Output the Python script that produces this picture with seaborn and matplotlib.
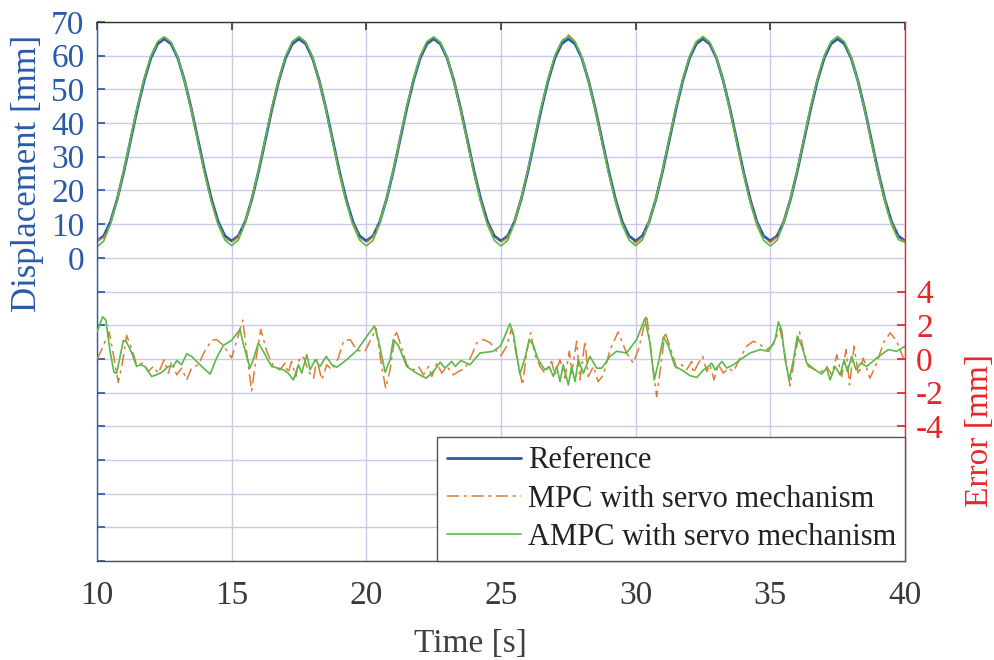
import pandas as pd
import seaborn as sns
import matplotlib.pyplot as plt

# displacement curves, sampled every 0.25 s from 10 s to 40 s
t_disp = [10 + 0.25 * i for i in range(121)]

ref_disp = [
    5.0, 6.5, 10.7, 17.4, 25.7, 35.0, 44.3, 52.6, 59.3, 63.5, 65.0, 63.5, 59.3, 52.6, 44.3, 35.0, 25.7, 17.4, 10.7, 6.5,
    5.0, 6.5, 10.7, 17.4, 25.7, 35.0, 44.3, 52.6, 59.3, 63.5, 65.0, 63.5, 59.3, 52.6, 44.3, 35.0, 25.7, 17.4, 10.7, 6.5,
    5.0, 6.5, 10.7, 17.4, 25.7, 35.0, 44.3, 52.6, 59.3, 63.5, 65.0, 63.5, 59.3, 52.6, 44.3, 35.0, 25.7, 17.4, 10.7, 6.5,
    5.0, 6.5, 10.7, 17.4, 25.7, 35.0, 44.3, 52.6, 59.3, 63.5, 65.0, 63.5, 59.3, 52.6, 44.3, 35.0, 25.7, 17.4, 10.7, 6.5,
    5.0, 6.5, 10.7, 17.4, 25.7, 35.0, 44.3, 52.6, 59.3, 63.5, 65.0, 63.5, 59.3, 52.6, 44.3, 35.0, 25.7, 17.4, 10.7, 6.5,
    5.0, 6.5, 10.7, 17.4, 25.7, 35.0, 44.3, 52.6, 59.3, 63.5, 65.0, 63.5, 59.3, 52.6, 44.3, 35.0, 25.7, 17.4, 10.7, 6.5,
    5.0,
]

mpc_disp = [
    5.0, 6.0, 10.2, 17.6, 26.1, 35.3, 44.6, 53.0, 59.8, 64.0, 65.5, 64.0, 59.6, 52.8, 44.2, 34.6, 25.2, 16.8, 10.1, 5.9,
    4.6, 6.1, 10.9, 17.9, 26.2, 35.4, 44.7, 53.0, 59.8, 64.1, 65.6, 64.0, 59.7, 52.6, 44.1, 34.7, 25.4, 17.0, 10.3, 6.0,
    4.5, 6.2, 10.8, 17.8, 26.1, 35.5, 44.8, 53.1, 59.9, 64.1, 65.5, 63.9, 59.5, 52.7, 44.3, 34.8, 25.3, 16.9, 10.2, 6.1,
    4.6, 6.0, 11.0, 17.9, 26.3, 35.6, 44.9, 53.2, 60.0, 64.3, 66.2, 64.2, 59.6, 52.5, 44.0, 34.6, 25.2, 16.9, 10.1, 5.9,
    4.4, 6.1, 10.9, 17.8, 26.2, 35.4, 44.7, 53.0, 59.8, 64.0, 65.6, 64.0, 59.7, 52.8, 44.2, 34.7, 25.3, 17.0, 10.3, 6.0,
    4.5, 6.2, 10.8, 17.8, 26.1, 35.5, 44.8, 53.1, 59.9, 64.1, 65.7, 64.1, 59.6, 52.6, 44.1, 34.7, 25.4, 17.1, 10.4, 6.1,
    4.8,
]

ampc_disp = [
    3.2, 5.0, 10.0, 17.3, 26.0, 35.6, 45.0, 53.2, 59.9, 64.2, 65.6, 64.0, 59.5, 52.4, 43.8, 34.3, 24.9, 16.5, 9.7, 5.3,
    3.6, 5.3, 10.3, 17.6, 26.1, 35.5, 44.9, 53.1, 59.8, 64.2, 65.7, 64.1, 59.6, 52.4, 43.9, 34.4, 25.0, 16.6, 9.8, 5.3,
    3.5, 5.2, 10.2, 17.5, 26.0, 35.5, 44.9, 53.2, 59.9, 64.2, 65.6, 64.0, 59.5, 52.3, 43.8, 34.4, 24.9, 16.5, 9.7, 5.2,
    3.5, 5.2, 10.3, 17.6, 26.2, 35.6, 45.0, 53.2, 59.9, 64.3, 65.8, 64.1, 59.6, 52.4, 43.9, 34.4, 25.0, 16.6, 9.8, 5.3,
    3.6, 5.3, 10.2, 17.5, 26.0, 35.5, 44.9, 53.1, 59.8, 64.2, 65.7, 64.0, 59.5, 52.4, 43.8, 34.3, 24.9, 16.5, 9.7, 5.2,
    3.5, 5.2, 10.2, 17.5, 26.1, 35.5, 44.9, 53.2, 59.9, 64.2, 65.7, 64.1, 59.6, 52.4, 43.9, 34.4, 25.0, 16.6, 9.8, 5.4,
    4.6,
]

# tracking error of the MPC controller [mm]
t_mpc = [
    10.0, 10.16, 10.45, 10.58, 10.79, 10.92, 11.1, 11.29, 11.47, 11.72, 11.9, 12.09, 12.28, 12.49, 12.65, 12.77,
    12.96, 13.14, 13.33, 13.51, 13.76, 14.01, 14.26, 14.44, 14.69, 15.0, 15.19, 15.41, 15.56, 15.74, 15.9, 16.08,
    16.3, 16.55, 16.79, 16.98, 17.1, 17.22, 17.38, 17.54, 17.69, 17.85, 18.04, 18.16, 18.35, 18.53, 18.72, 18.96,
    19.15, 19.4, 19.65, 19.95, 20.14, 20.36, 20.57, 20.72, 20.88, 21.1, 21.25, 21.5, 21.75, 21.94, 22.12, 22.31,
    22.43, 22.62, 22.8, 22.99, 23.23, 23.42, 23.67, 23.92, 24.1, 24.35, 24.6, 24.84, 25.0, 25.21, 25.39, 25.58,
    25.8, 25.95, 26.1, 26.26, 26.45, 26.63, 26.88, 27.0, 27.19, 27.37, 27.54, 27.62, 27.81, 27.93, 28.12, 28.24,
    28.43, 28.61, 28.8, 29.05, 29.35, 29.66, 29.91, 30.1, 30.41, 30.59, 30.78, 30.93, 31.09, 31.27, 31.52, 31.71,
    31.89, 32.08, 32.14, 32.33, 32.49, 32.64, 32.76, 32.91, 33.07, 33.26, 33.44, 33.63, 33.88, 34.12, 34.37, 34.62,
    34.87, 35.11, 35.36, 35.55, 35.73, 35.89, 36.08, 36.23, 36.41, 36.66, 36.91, 37.09, 37.28, 37.47, 37.65, 37.81,
    37.94, 38.11, 38.27, 38.45, 38.7, 38.95, 39.2, 39.45, 39.69, 39.94,
]
err_mpc = [
    0.0, 0.5, 1.6, 0.5, -1.4, -0.45, 1.4, 0.6, -0.35, -0.25, -0.75, -0.45, -0.85, -0.05, -0.85, -0.15,
    -0.95, -0.55, -1.25, -0.55, -0.35, 0.5, 1.1, 1.15, 0.8, 0.05, 1.1, 2.3, 0.35, -1.9, -0.05, 1.75,
    0.45, -0.45, -0.65, -0.25, -0.85, -0.15, -1.05, 0.15, 0.05, -0.75, -1.15, -0.05, -1.25, -0.35, -0.65, 0.05,
    1.05, 1.15, 0.5, 0.45, 1.05, 1.8, -0.45, -1.75, -0.65, 1.7, 0.95, -0.35, -0.65, -0.45, -0.95, -0.45,
    -1.05, -0.25, -0.85, -0.45, -0.95, -0.75, -0.55, 0.25, 0.95, 1.15, 0.95, 0.45, 0.2, 0.75, 1.8, 0.15,
    -1.55, 0.35, 1.55, 0.25, -0.45, -0.85, -0.15, -0.95, -0.05, -1.15, 0.45, -0.85, 1.05, -1.25, 1.05, -1.05,
    -0.45, -1.35, -0.95, 0.55, 1.6, 0.35, -0.25, 0.55, 2.6, 0.15, -2.25, -0.45, 1.6, 0.75, -0.55, -0.35,
    -0.65, -0.15, -0.85, -0.25, 0.15, -0.75, -0.35, -1.25, -0.35, -0.85, -0.55, -0.75, 0.05, 0.75, 1.05, 0.85,
    0.55, 0.85, 1.8, 0.15, -1.6, -0.05, 1.6, 0.55, -0.45, -0.65, -0.75, -0.45, -0.95, 0.25, -1.05, 0.55,
    -1.55, 0.75, -0.95, 0.05, -1.15, -0.25, 0.95, 1.55, 1.05, 0.05,
]

# tracking error of the AMPC controller [mm]
t_ampc = [
    10.0, 10.21, 10.33, 10.48, 10.63, 10.73, 10.98, 11.1, 11.29, 11.47, 11.6, 11.78, 12.03, 12.2, 12.4, 12.65,
    12.83, 12.96, 13.14, 13.33, 13.51, 13.7, 13.95, 14.2, 14.44, 14.69, 15.0, 15.31, 15.43, 15.68, 15.8, 15.99,
    16.17, 16.48, 16.73, 16.92, 17.1, 17.29, 17.48, 17.6, 17.79, 17.91, 18.1, 18.28, 18.51, 18.72, 18.9, 19.27,
    19.65, 20.02, 20.3, 20.45, 20.7, 20.88, 21.0, 21.19, 21.5, 21.87, 22.22, 22.49, 22.74, 22.92, 23.17, 23.3,
    23.51, 23.85, 24.22, 24.72, 24.97, 25.09, 25.33, 25.46, 25.7, 25.89, 26.05, 26.2, 26.38, 26.63, 26.79, 26.94,
    27.07, 27.19, 27.31, 27.5, 27.62, 27.75, 27.87, 28.06, 28.3, 28.55, 28.74, 29.05, 29.29, 29.66, 30.04, 30.34,
    30.53, 30.69, 30.84, 31.03, 31.21, 31.46, 31.71, 32.02, 32.27, 32.52, 32.7, 32.82, 32.95, 33.2, 33.38, 33.63,
    33.88, 34.25, 34.62, 34.93, 35.18, 35.3, 35.42, 35.55, 35.7, 35.86, 36.0, 36.17, 36.35, 36.66, 36.91, 37.09,
    37.22, 37.4, 37.59, 37.74, 37.86, 38.02, 38.18, 38.36, 38.58, 38.95, 39.38, 39.69, 40.0,
]
err_ampc = [
    1.6, 2.5, 2.3, 0.5, -0.8, -0.85, 1.1, 1.0, 0.35, -0.45, -0.35, -0.45, -1.05, -0.95, -0.8, -0.45,
    -0.45, -0.1, -0.35, 0.3, 0.15, -0.15, -0.55, -0.9, 0.05, 0.8, 1.1, 1.75, 0.9, -0.55, -0.05, 0.95,
    0.45, -0.45, -0.55, -0.65, -0.85, -1.25, -0.35, -0.85, 0.25, -0.65, -0.05, -0.45, 0.15, -0.35, -0.5, -0.05,
    0.5, 1.35, 1.95, 1.1, -0.8, -0.05, 1.15, 0.8, -0.45, -0.85, -1.15, -0.75, -0.2, -0.55, -0.15, -0.45,
    -0.1, -0.35, 0.35, 0.45, 0.75, 1.15, 2.1, 1.5, -0.9, 0.05, 1.15, 0.8, -0.05, -0.65, -0.45, -1.05,
    -0.45, -1.35, -0.35, -1.55, -0.45, -1.35, -0.05, -0.85, 0.15, -0.55, -0.55, 0.15, 0.45, 0.35, 1.15, 2.4,
    0.95, -1.25, -0.25, 1.3, 0.8, -0.45, -0.65, -1.0, -1.1, -0.65, -0.45, -0.25, -0.65, -0.15, -0.55, -0.35,
    -0.05, 0.35, 0.55, 0.45, 1.15, 2.2, 1.7, -0.05, -1.25, -0.05, 1.35, 0.75, -0.25, -0.65, -0.9, -0.55,
    -1.25, -0.45, -0.95, -0.05, -0.75, 0.15, -0.65, -0.25, -0.45, 0.05, 0.55, 0.45, 0.75,
]

labels = ["Reference", "MPC with servo mechanism", "AMPC with servo mechanism"]

blue = "#2a5aa8"
orange = "#e07b35"
green = "#5cb848"
red = "#e8262a"

sns.set_theme(style="white")
plt.rcParams['font.family'] = ['Liberation Serif', 'DejaVu Serif']

disp = pd.DataFrame({"t": t_disp, "ref": ref_disp, "mpc": mpc_disp, "ampc": ampc_disp})
emp = pd.DataFrame({"t": t_mpc, "e": err_mpc})
eam = pd.DataFrame({"t": t_ampc, "e": err_ampc})

fig = plt.figure(figsize=(9.95, 6.6), dpi=100)
ax = fig.add_axes([97 / 995, 1 - 561 / 660, 808 / 995, 539 / 660])
ax2 = ax.twinx()

# displacement on the left axis
sns.lineplot(data=disp, x="t", y="ref", ax=ax, color=blue, lw=2.0, label=labels[0], estimator=None, sort=False)
sns.lineplot(data=disp, x="t", y="mpc", ax=ax, color=orange, lw=1.1, label=labels[1], estimator=None, sort=False)
ax.lines[-1].set_dashes([8, 3, 2, 3])
sns.lineplot(data=disp, x="t", y="ampc", ax=ax, color=green, lw=1.2, label=labels[2], estimator=None, sort=False)

# errors on the right axis
sns.lineplot(data=emp, x="t", y="e", ax=ax2, color=orange, lw=1.1, estimator=None, sort=False)
ax2.lines[-1].set_dashes([8, 3, 2, 3])
sns.lineplot(data=eam, x="t", y="e", ax=ax2, color=green, lw=1.2, estimator=None, sort=False)

ax.set_xlim(10, 40)
ax.set_ylim(-90, 70)
ax2.set_ylim(-12, 20)

ax.set_xticks([10, 15, 20, 25, 30, 35, 40])
yt = list(range(-90, 71, 10))
ax.set_yticks(yt)
ax.set_yticklabels([str(v) if v >= 0 else "" for v in yt])
ax2.set_yticks([-4, -2, 0, 2, 4])
ax2.set_yticklabels(["-4", "-2", "0", "2", "4"])

ax.grid(True, color="#c9cbe6", lw=1.0)
ax.set_axisbelow(True)

ax.tick_params(axis="x", direction="in", top=True, length=6, colors="#3a3a3a", labelsize=24, pad=14)
ax.tick_params(axis="y", direction="in", length=6, colors=blue, labelsize=24, pad=9)
ax2.tick_params(axis="y", direction="in", length=6, colors=red, labelsize=24, pad=8)

for side in ["top", "bottom", "left"]:
    ax2.spines[side].set_visible(False)
ax.spines["right"].set_visible(False)
ax2.spines["right"].set_color(red)
ax.spines["left"].set_color(blue)
ax.spines["top"].set_color("#303030")
ax.spines["bottom"].set_color("#505050")
for side in ["top", "bottom", "left"]:
    ax.spines[side].set_linewidth(1.0)
ax2.spines["right"].set_linewidth(1.0)

ax.set_xlabel("Time [s]", fontsize=24, color="#404040")
ax.xaxis.set_label_coords(0.462, -0.125)
ax.set_ylabel("Displacement [mm]", fontsize=25, color=blue)
ax.yaxis.set_label_coords(-0.066, 0.72)
ax2.set_ylabel("Error [mm]", fontsize=24, color=red, rotation=90)
ax2.yaxis.set_label_coords(1.074, 0.243)

ax.get_legend().remove()
h, l = ax.get_legend_handles_labels()
leg = ax2.legend(h, l, loc="lower right", bbox_to_anchor=(1.0, 0.0), borderaxespad=0, fontsize=22,
                 frameon=True, fancybox=False, framealpha=1, edgecolor="#555555", handlelength=2.45,
                 handletextpad=0.2, labelspacing=0.3, borderpad=0.3)
leg.get_frame().set_linewidth(1.0)
for txt in leg.get_texts():
    txt.set_color("#222222")

plt.savefig("out.png", dpi=100)
